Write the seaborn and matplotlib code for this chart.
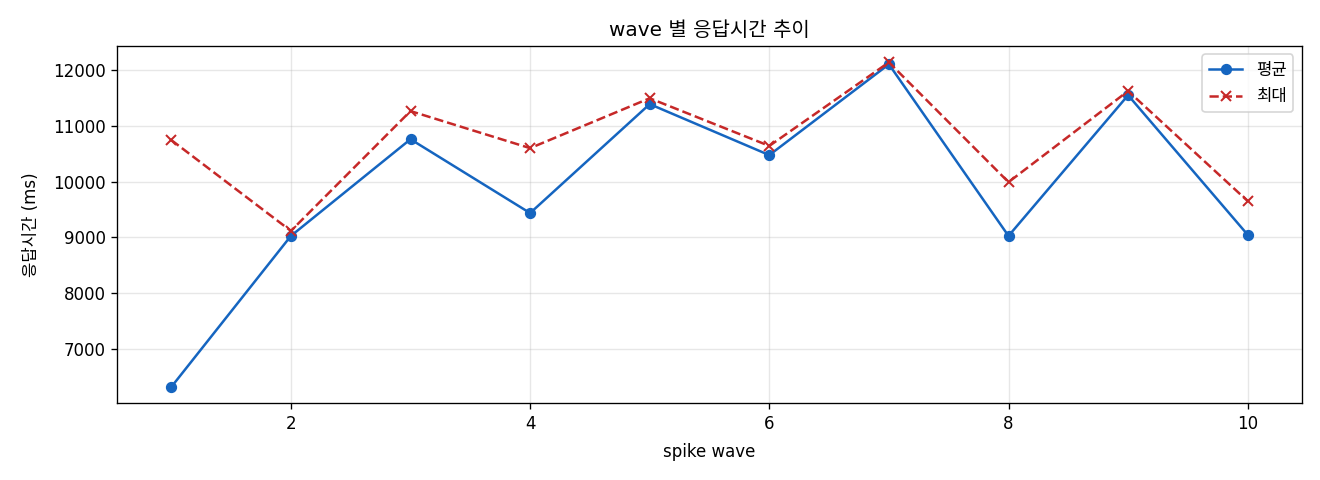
import numpy as np
import pandas as pd
import matplotlib
matplotlib.use("Agg")
import matplotlib.pyplot as plt
import seaborn as sns

waves = [1, 2, 3, 4, 5, 6, 7, 8, 9, 10]
avg_ms = [6315, 9025, 10760, 9435, 11390, 10475, 12105, 9025, 11550, 9045]
max_ms = [10745, 9115, 11265, 10600, 11495, 10640, 12140, 9990, 11625, 9650]

# 라틴/숫자는 DejaVu, 한글은 Noto CJK 로 대체
plt.rcParams['font.family'] = ['DejaVu Sans', 'Noto Sans CJK KR']
plt.rcParams['axes.unicode_minus'] = False

df = pd.DataFrame({'wave': waves, '평균': avg_ms, '최대': max_ms})

fig, ax = plt.subplots(figsize=(11, 4), dpi=120)
sns.lineplot(data=df, x='wave', y='평균', ax=ax, marker='o', color='#1565c0',
             markeredgecolor='#1565c0', markersize=6, label='평균')
sns.lineplot(data=df, x='wave', y='최대', ax=ax, marker='x', color='#c62828',
             markeredgecolor='#c62828', markeredgewidth=1.2,
             linestyle='--', markersize=6, label='최대')

ax.set_title('wave 별 응답시간 추이')
ax.set_xlabel('spike wave', labelpad=6)
ax.set_ylabel('응답시간 (ms)', labelpad=8)
ax.grid(True, alpha=0.3)
ax.legend(loc='upper right')

fig.subplots_adjust(left=0.089, right=0.986, top=0.904, bottom=0.16)
plt.savefig('out.png')
